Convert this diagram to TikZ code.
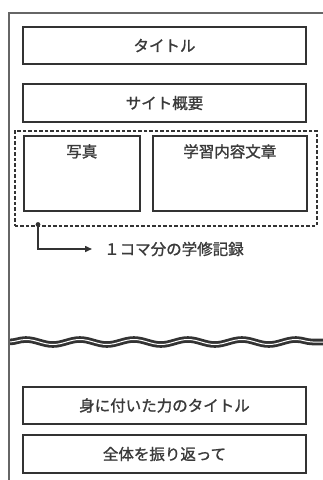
\documentclass[tikz,border=0pt]{standalone}
\usepackage{fontspec}
\setmainfont{Noto Sans CJK JP}[FakeBold=1.2]
\usetikzlibrary{arrows.meta,decorations.pathmorphing}
\definecolor{ink}{HTML}{333333}
\definecolor{txt}{HTML}{3A3A3A}
\begin{document}
\begin{tikzpicture}[x=1pt,y=-1pt,
  box/.style={draw=ink,line width=1.6pt,text=txt,font=\fontsize{15.5}{17}\selectfont},
  lbl/.style={text=txt,font=\fontsize{15.5}{17}\selectfont,inner sep=0pt}]
\useasboundingbox (0,0) rectangle (323,480);
\fill[white] (0,0) rectangle (323,480);
% outer frame
\draw[draw=ink!75,line width=1.4pt] (323,13) -- (9,13) -- (9,480);
% boxes
\draw[box] (23,27) rectangle node (title) {タイトル} (306,64);
\draw[box] (23,84) rectangle node (site) {サイト概要} (306,122);
\node[draw=ink,line width=1.6pt,dash pattern=on 3.5pt off 2pt,minimum width=302pt,minimum height=95pt,inner sep=0pt,anchor=north west] (group) at (14,130) {};
\node[draw=ink,line width=1.6pt,minimum width=116pt,minimum height=75pt,inner sep=0pt,anchor=north west] (photo) at (23,135) {};
\node[draw=ink,line width=1.6pt,minimum width=154pt,minimum height=75pt,inner sep=0pt,anchor=north west] (study) at (152,135) {};
\node[lbl,anchor=north] (phototxt) at ([yshift=-9pt]photo.north) {写真};
\node[lbl,anchor=north] (studytxt) at ([yshift=-9pt]study.north) {学習内容文章};
% arrow
\coordinate (dot) at (38,224.5);
\node[lbl,anchor=west] (rec) at (104,249) {１コマ分の学修記録};
\fill[ink] (dot) circle (2.4pt);
\draw[ink,line width=1.5pt,-{Triangle[length=7pt,width=6pt]}] (dot) |- ([xshift=-12pt]rec.west);
% wave
\draw[ink,line width=2.8pt,double=white,double distance=1pt,
  decorate,decoration={snake,amplitude=2.5pt,segment length=54pt}] (9,342) -- (323,342);
\draw[draw=ink!75,line width=1.4pt] (9,335) -- (9,350);
% bottom boxes
\draw[box] (23,387) rectangle node (power) {身に付いた力のタイトル} (306,424);
\draw[box] (23,435) rectangle node (look) {全体を振り返って} (306,473);
\end{tikzpicture}
\end{document}
